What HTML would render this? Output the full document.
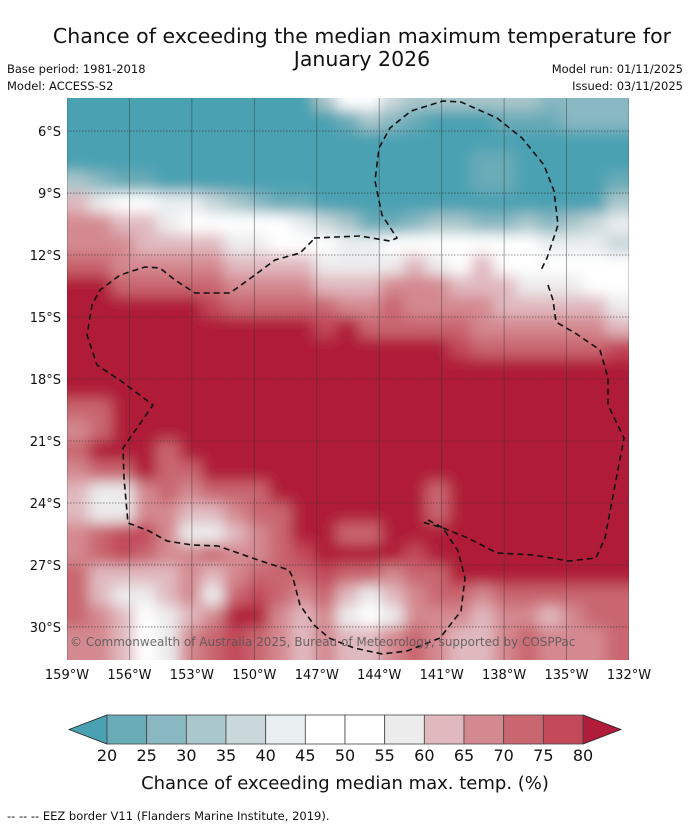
<!DOCTYPE html>
<html><head><meta charset="utf-8">
<style>
html,body{margin:0;padding:0;background:#fff;}
body{width:690px;height:827px;overflow:hidden;font-family:"Liberation Sans","DejaVu Sans",sans-serif;}
svg text{font-family:"DejaVu Sans","Liberation Sans",sans-serif;}
</style></head>
<body>
<svg id="chart" width="690" height="827" viewBox="0 0 690 827" xmlns="http://www.w3.org/2000/svg">
  <defs>
    <clipPath id="mapclip"><rect x="67" y="98" width="562" height="562"/></clipPath>
    <filter id="soft" filterUnits="userSpaceOnUse" x="40" y="70" width="620" height="620"><feGaussianBlur stdDeviation="7"/></filter>
  </defs>
  <text x="362" y="43" font-size="20.5" text-anchor="middle" fill="#111">Chance of exceeding the median maximum temperature for</text>
  <text x="362" y="66" font-size="20.5" text-anchor="middle" fill="#111">January 2026</text>
  <text x="7" y="73" font-size="11.5" fill="#111">Base period: 1981-2018</text>
  <text x="7" y="90" font-size="11.5" fill="#111">Model: ACCESS-S2</text>
  <text x="683" y="73" font-size="11.5" text-anchor="end" fill="#111">Model run: 01/11/2025</text>
  <text x="683" y="90" font-size="11.5" text-anchor="end" fill="#111">Issued: 03/11/2025</text>

  <g clip-path="url(#mapclip)">
    <rect x="60" y="90" width="580" height="580" fill="#4aa1b2"/>
    <g id="cells" filter="url(#soft)"></g>
    <g id="grid"></g>
    <g fill="none" stroke="#111" stroke-width="1.6" stroke-dasharray="6,4">
      <path d="M314,238 L360,236 L390,241 L397,238 L382,215 L375,181 L379,148 L390,128 L411,111 L443,101 L461,102 L497,118 L522,138 L544,165 L554,191 L558,225 L547,258 L540,272 M548,285 L553,300 L556,322 L575,333 L600,350 L608,378 L608,405 L624,438 L615,485 L605,538 L596,558 L569,561 L533,555 L497,553 L468,538 L443,528 L422,522"/>
      <path d="M428,520 L443,528 L458,551 L465,578 L461,611 L440,638 L407,651 L382,654 L354,648 L329,638 L314,625 L300,605 L293,578 L289,570 L261,561 L218,546 L192,545 L167,541 L149,531 L128,523 L124,478 L123,448 L153,405 L121,381 L97,365 L87,335 L92,305 L100,290 L120,275 L145,267 L160,268 L175,280 L195,293 L230,293 L255,275 L275,260 L300,253 L315,238"/>
    </g>
    <text x="70" y="646" font-size="12" fill="#555" fill-opacity="0.85">© Commonwealth of Australia 2025, Bureau of Meteorology, supported by COSPPac</text>
  </g>
  <g id="axes"></g>
  <g id="cbar"></g>
  <text x="345" y="789" font-size="18" text-anchor="middle" fill="#111">Chance of exceeding median max. temp. (%)</text>
  <text x="7" y="820" font-size="11.5" fill="#111">--  --  -- EEZ border V11 (Flanders Marine Institute, 2019).</text>
</svg>
<script>
// ----- data -----
const lonMin = -159, lonMax = -132;
const latTop = 4.4, latBottom = 31.6;
const rowLats = [4.5,5.5,6.5,7.5,8.5,9.5,10.5,11.5,12.5,13.5,14.5,15.5,16.5,17.5,18.5,19.5,20.5,21.5,22.5,23.5,24.5,25.5,26.5,27.5,28.5,29.5,30.5,31.5];
// class code per cell (0:<20 ... 6:45-55 ... C:>80), 25 cells per row spanning lonMin..lonMax
const fieldRows = [
"0000000000036643333332222",
"0000000000001321000111222",
"0000000000000000000000000",
"0000000000000000001100000",
"3211000000000000001100001",
"8766554321100000000000003",
"9988766666543112332232345",
"9998888776665566666665554",
"AA99999888877778768666666",
"CCAAAAA999988899988877766",
"CCCCCCBAAAAA99A9999888887",
"CCCCCCCCCCCBCAAAAA9999998",
"CCCCCCCCCCCCCCCCCBAAAAAAB",
"CCCCCCCCCCCCCCCCCCCCCCCCC",
"CCCCCCCCCCCCCCCCCCCCCCCCC",
"AACCCCCCCCCCCCCCCCCCCCCCC",
"9ACCCCCCCCCCCCCCCCCCCCCCC",
"ACCCACCCCCCCCCCCCCCCCCCCC",
"9AACAACCCCCCCCCCCCCCCCCCC",
"8779A9AAACCCCCCCACCCCCCCC",
"87799889AACCCCCCACCCCCCCC",
"9ABB97789ACCAACCCCCCCCCCC",
"9ABA99A99ABCCCCBCCCCCCCCC",
"A8888989AAABAA9AACCCCCCCC",
"A877897ABA9A8789AA9AAAAAA",
"A986789CC98976799989989AA",
"998679ABA989889A9889A999A",
"998679ABA989889A9889A999A"
];
const classCodes = ["0","1","2","3","4","5","6","7","8","9","A","B","C"];
const classProb = [15,22.5,27.5,32.5,37.5,42.5,50,57.5,62.5,67.5,72.5,77.5,85];
const cbarTicks = [20,25,30,35,40,45,50,55,60,65,70,75,80];
const cbarColors = ["#6aabb8","#89b8c2","#aac7cb","#cad7db","#e9eef1","#ffffff","#ffffff","#ececed","#e0b9bf","#d48990","#c96670","#c2485a"];
const underColor = "#4aa1b2", overColor = "#b01c39";
const latTicks = [6,9,12,15,18,21,24,27,30];
const lonTicks = [-159,-156,-153,-150,-147,-144,-141,-138,-135,-132];

// ----- scales -----
const X0=67, X1=629, Y0=98, Y1=660;
const xScale = lon => X0 + (lon-lonMin)/(lonMax-lonMin)*(X1-X0);
const yScale = lat => Y0 + (lat-latTop)/(latBottom-latTop)*(Y1-Y0);
function colorFor(p){
  if(p<cbarTicks[0]) return underColor;
  if(p>=cbarTicks[cbarTicks.length-1]) return overColor;
  for(let i=0;i<cbarTicks.length-1;i++){ if(p>=cbarTicks[i]&&p<cbarTicks[i+1]) return cbarColors[i]; }
  return overColor;
}
const NS="http://www.w3.org/2000/svg";
function mk(tag,attrs,parent){const e=document.createElementNS(NS,tag);for(const k in attrs)e.setAttribute(k,attrs[k]);parent.appendChild(e);return e;}

// ----- field cells (edge cells padded outward so blur doesn't fade at map border) -----
const cells=document.getElementById('cells');
const PAD=15;
fieldRows.forEach((row,j)=>{
  const n=row.length, dLon=(lonMax-lonMin)/n;
  let yA=yScale(rowLats[j]-0.5), yB=yScale(rowLats[j]+0.5);
  if(j===0) yA-=PAD;
  if(j===fieldRows.length-1) yB+=PAD;
  for(let i=0;i<n;i++){
    const p=classProb[classCodes.indexOf(row[i])];
    let xa=xScale(lonMin+i*dLon), xb=xScale(lonMin+(i+1)*dLon);
    if(i===0) xa-=PAD;
    if(i===n-1) xb+=PAD;
    const r=mk('rect',{x:xa-0.5,y:yA-0.5,width:xb-xa+1,height:yB-yA+1,fill:colorFor(p)},cells);
    
    
  }
});

// ----- graticule -----
const grid=document.getElementById('grid');
latTicks.forEach(l=>{
  const y=yScale(l);
  const g=mk('line',{x1:X0,x2:X1,y1:y,y2:y,stroke:'#333','stroke-width':0.8,'stroke-dasharray':'1.5,1.5','stroke-opacity':0.7},grid);
  
  
});
lonTicks.forEach(l=>{
  const x=xScale(l);
  const g=mk('line',{x1:x,x2:x,y1:Y0,y2:Y1,stroke:'#333','stroke-width':0.8,'stroke-opacity':0.55},grid);
  
  
});

// ----- axis labels -----
const axes=document.getElementById('axes');
latTicks.forEach(l=>{
  const t=mk('text',{x:61,y:yScale(l)+5,'font-size':13,'text-anchor':'end',fill:'#111'},axes);
  t.textContent=l+'°S';
  
  
});
lonTicks.forEach(l=>{
  const t=mk('text',{x:xScale(l),y:679,'font-size':13,'text-anchor':'middle',fill:'#111'},axes);
  t.textContent=Math.abs(l)+'°W';
  
  
});

// ----- colorbar -----
const cb=document.getElementById('cbar');
const CB0=107, CB1=583, CBy=715, CBh=29;
const cbx=v=>CB0+(v-cbarTicks[0])/(cbarTicks[cbarTicks.length-1]-cbarTicks[0])*(CB1-CB0);
const lo=mk('polygon',{points:`${CB0},${CBy} ${CB0},${CBy+CBh} 69,${CBy+CBh/2}`,fill:underColor,stroke:'#222','stroke-width':0.8},cb);


const hi=mk('polygon',{points:`${CB1},${CBy} ${CB1},${CBy+CBh} 621,${CBy+CBh/2}`,fill:overColor,stroke:'#222','stroke-width':0.8},cb);


cbarColors.forEach((c,i)=>{
  const r=mk('rect',{x:cbx(cbarTicks[i]),y:CBy,width:cbx(cbarTicks[i+1])-cbx(cbarTicks[i]),height:CBh,fill:c,stroke:'#444','stroke-width':0.8},cb);
  
  
});
cbarTicks.forEach(v=>{
  const t=mk('text',{x:cbx(v),y:761,'font-size':16,'text-anchor':'middle',fill:'#111'},cb);
  t.textContent=v;
  
  
});
</script>
</body></html>
